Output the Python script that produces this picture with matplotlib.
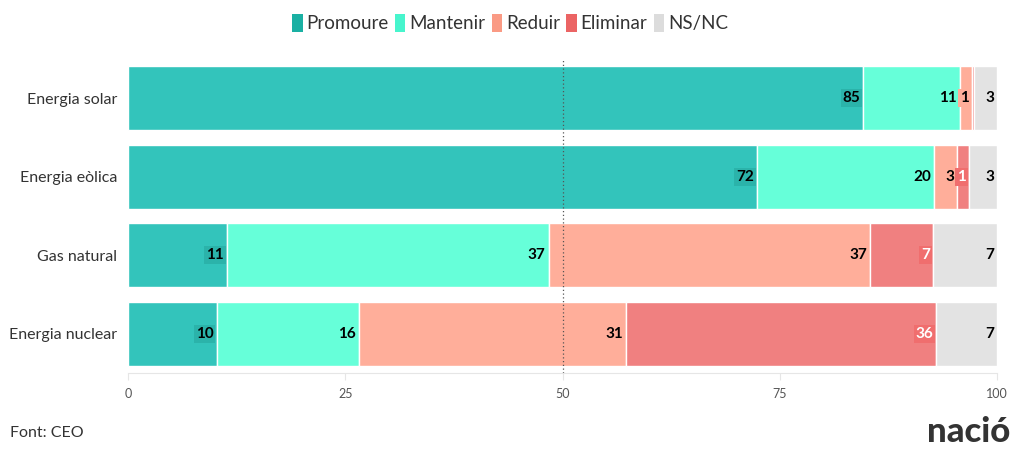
import matplotlib.pyplot as plt
import numpy as np
from matplotlib.patches import Patch

plt.rcParams['font.family'] = ['Lato', 'DejaVu Sans']

# --- data ---
categories = ["Energia solar", "Energia eòlica", "Gas natural", "Energia nuclear"]
series = ["Promoure", "Mantenir", "Reduir", "Eliminar", "NS/NC"]
promoure = [84.6, 72.4, 11.4, 10.2]
mantenir = [11.1, 20.4, 37.0, 16.4]
reduir = [1.4, 2.6, 37.0, 30.7]
eliminar = [0.3, 1.4, 7.2, 35.7]
nsnc = [2.6, 3.2, 7.4, 7.0]

colors = ['#33c4bb', '#66ffd9', '#ffae9a', '#f08080', '#e3e3e3']
legend_colors = ['#1ab0a3', '#47f5cd', '#fa9a84', '#eb6464', '#dcdcdc']
label_bg = ['#2bb3aa', '#66ffd9', '#ffae9a', '#f06e6e', '#e3e3e3']
text_colors = ['black', 'black', 'black', 'white', 'black']

values = np.array([promoure, mantenir, reduir, eliminar, nsnc])

fig = plt.figure(figsize=(10.2, 4.59), dpi=100)
ax = fig.add_axes([0.1255, 0.1874, 0.852, 0.6841])

y = np.arange(len(categories))
left = np.zeros(len(categories))
for i, name in enumerate(series):
    ax.barh(y, values[i], left=left, height=0.81, color=colors[i],
            edgecolor='white', linewidth=1, zorder=2)
    for j in range(len(categories)):
        v = values[i][j]
        if round(v) >= 1:
            ax.text(left[j] + v - 0.35, y[j], f"{round(v):.0f}", ha='right', va='center',
                    fontsize=11, fontweight='bold', color=text_colors[i], zorder=5,
                    bbox=dict(boxstyle='square,pad=0.12', fc=label_bg[i], ec='none'))
    left += values[i]

ax.axvline(50, color='#555555', linestyle=(0, (1, 2)), linewidth=0.9, zorder=3)
ax.set_xlim(0, 100)
ax.set_ylim(len(categories) - 0.5, -0.5)
ax.set_yticks(y)
ax.set_yticklabels(categories, fontsize=11.5, color='#333333')
ax.set_xticks([0, 25, 50, 75, 100])
ax.tick_params(axis='y', length=0, pad=8)
ax.tick_params(axis='x', length=5, color='#e6e6e6', labelsize=9, labelcolor='#555555', pad=6)
for s in ['top', 'right', 'left']:
    ax.spines[s].set_visible(False)
ax.spines['bottom'].set_color('#e6e6e6')

handles = [Patch(facecolor=c, edgecolor='none') for c in legend_colors]
fig.legend(handles, series, loc='center', bbox_to_anchor=(0.5, 0.95), ncol=5,
           frameon=False, fontsize=13.5, handlelength=0.55, handleheight=1.1,
           handletextpad=0.2, columnspacing=0.35, labelcolor='#333333')

fig.text(10 / 1020, 1 - 433 / 459, "Font: CEO", fontsize=11.5, color='#333333', va='center')
fig.text(1010 / 1020, 1 - 432 / 459, "nació", fontsize=25, fontweight='black',
         color='#333333', ha='right', va='center')

fig.savefig('out.png', dpi=100)
